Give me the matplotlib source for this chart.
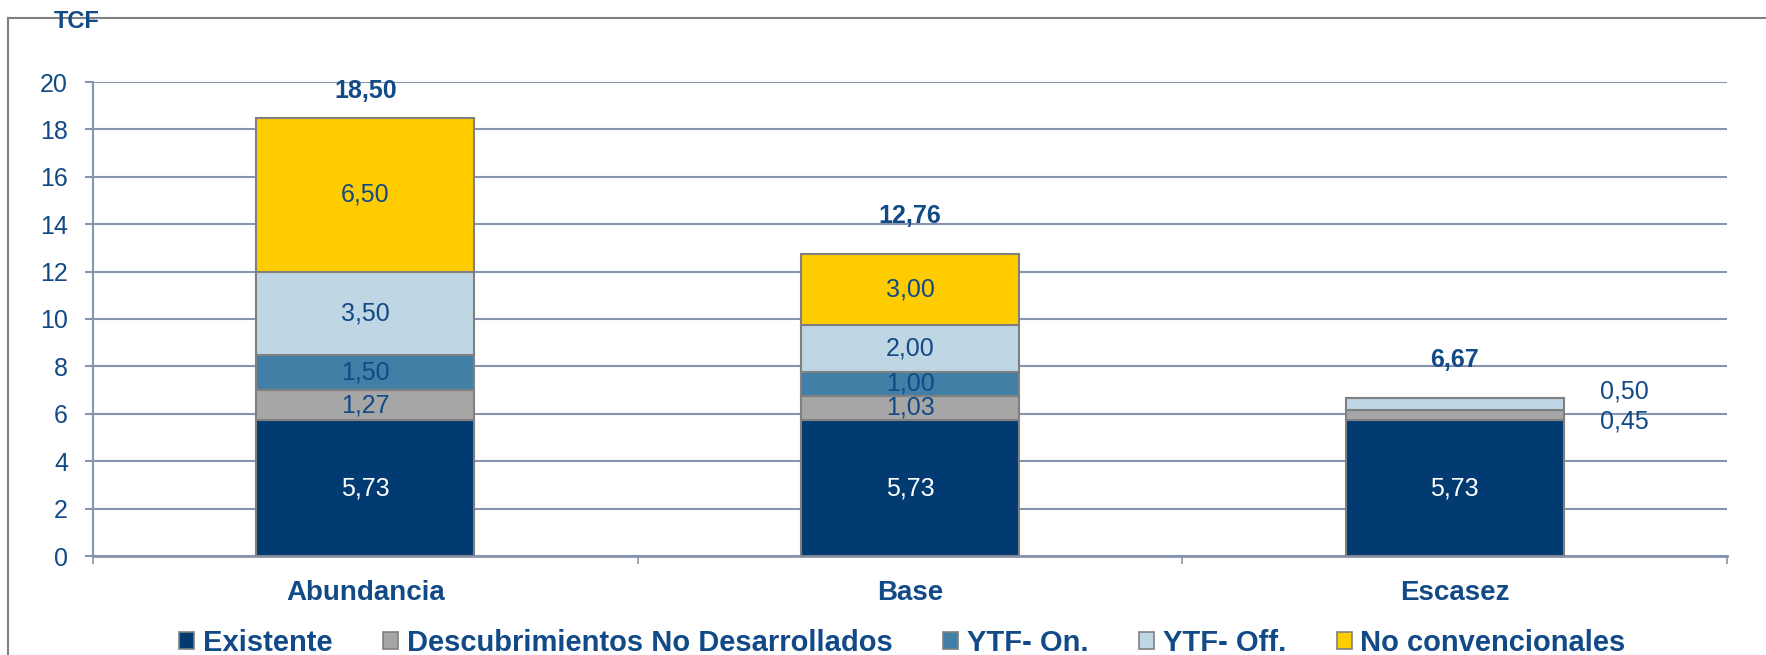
import matplotlib
matplotlib.use("Agg")
import matplotlib.pyplot as plt
from matplotlib.patches import Patch
from matplotlib.lines import Line2D
import numpy as np

plt.rcParams['font.family'] = ['Liberation Sans', 'DejaVu Sans']

categories = ["Abundancia", "Base", "Escasez"]
series_names = ["Existente", "Descubrimientos No Desarrollados", "YTF- On.", "YTF- Off.", "No convencionales"]
existente = [5.73, 5.73, 5.73]
descubrimientos = [1.27, 1.03, 0.45]
ytf_on = [1.50, 1.00, 0.00]
ytf_off = [3.50, 2.00, 0.50]
no_conv = [6.50, 3.00, 0.00]
totals = [18.50, 12.76, 6.67]
y_ticks = [0, 2, 4, 6, 8, 10, 12, 14, 16, 18, 20]

series = [existente, descubrimientos, ytf_on, ytf_off, no_conv]
colors = ["#023B71", "#A6A6A6", "#417FA6", "#BFD6E4", "#FFCC00"]
label_colors = ["white", "#114A87", "#114A87", "#114A87", "#114A87"]
text_col = "#114A87"
grid_col = "#8794AE"
edge_col = "#808080"

W, H = 1766, 655
fig = plt.figure(figsize=(W / 100, H / 100), dpi=100)
ax = fig.add_axes([93 / W, 1 - 556 / H, (1727 - 93) / W, (556 - 82) / H])

x = np.arange(len(categories))
bottom = np.zeros(len(categories))
for vals, c, lc in zip(series, colors, label_colors):
    vals = np.array(vals)
    ax.bar(x, vals, width=0.4, bottom=bottom, color=c, edgecolor=edge_col, linewidth=1.5, zorder=3)
    for i, v in enumerate(vals):
        if v <= 0:
            continue
        yc = bottom[i] + v / 2
        txt = f"{v:.2f}".replace(".", ",")
        if v < 0.9:
            # small segments labelled to the right of the bar
            dy = 9 if c == colors[3] else -5
            ax.annotate(txt, (x[i] + 0.2, yc), xytext=(26, dy), textcoords="offset points",
                        ha="left", va="center", fontsize=18, color=text_col, zorder=4)
        else:
            ax.text(x[i], yc, txt, ha="center", va="center", fontsize=18, color=lc, zorder=4)
    bottom += vals

total_offsets = [19, 27, 27]
for i, t in enumerate(totals):
    ax.annotate(f"{t:.2f}".replace(".", ","), (x[i], bottom[i]), xytext=(0, total_offsets[i]),
                textcoords="offset points", ha="center", va="center", fontsize=18,
                fontweight="bold", color=text_col)

ax.set_xlim(-0.5, 2.5)
ax.set_ylim(0, 20)
ax.set_yticks(y_ticks)
ax.set_xticks(x)
ax.set_xticklabels(categories, fontsize=20, fontweight="bold", color=text_col)
ax.set_xticks([-0.5, 0.5, 1.5, 2.5], minor=True)
ax.tick_params(axis="x", which="major", length=0, pad=17)
ax.tick_params(axis="x", which="minor", length=6, width=1.2, color=grid_col, direction="out")
ax.tick_params(axis="y", length=6, width=1.5, color=grid_col, pad=12, labelsize=18, labelcolor=text_col)
ax.yaxis.grid(True, color=grid_col, linewidth=1.5, zorder=0)
ax.set_axisbelow(True)
for s in ["top", "right"]:
    ax.spines[s].set_visible(False)
ax.spines["left"].set_color(grid_col)
ax.spines["left"].set_linewidth(1.5)
ax.spines["bottom"].set_color(grid_col)
ax.spines["bottom"].set_linewidth(2)

fig.text(54 / W, 1 - 22 / H, "TCF", fontsize=17, fontweight="bold", color=text_col, va="center", ha="left")

# outer frame
fig.add_artist(Line2D([8 / W, 8 / W], [1 - 18 / H, 0], transform=fig.transFigure, color=edge_col, linewidth=1.5))
fig.add_artist(Line2D([8 / W, 1], [1 - 18 / H, 1 - 18 / H], transform=fig.transFigure, color=edge_col, linewidth=1.5))

handles = [Patch(facecolor=c, edgecolor=edge_col, linewidth=1.2) for c in colors]
leg = fig.legend(handles, series_names, loc="center", bbox_to_anchor=(0.511, 1 - 643 / H), ncol=5,
                 frameon=False, prop={"size": 21, "weight": "bold"}, handlelength=0.5, handleheight=0.5,
                 handletextpad=0.3, columnspacing=1.75, borderaxespad=0, borderpad=0)
for t in leg.get_texts():
    t.set_color(text_col)

fig.savefig("out.png", dpi=100)
